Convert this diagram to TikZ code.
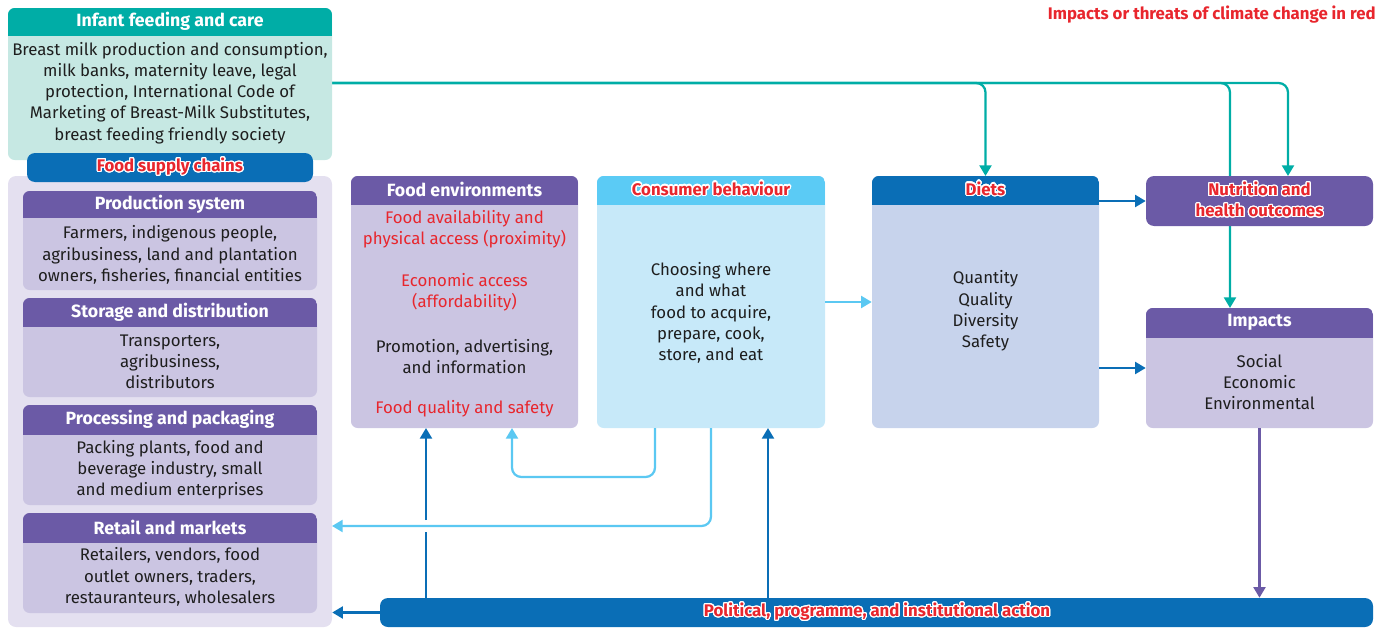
\documentclass[tikz,border=0pt]{standalone}
\usepackage{fontspec}
\setmainfont{Fira Sans}
\usepackage{contour}
\contourlength{0.9pt}
\contournumber{24}
\usetikzlibrary{arrows.meta,fit}
\definecolor{cteal}{HTML}{00ADA6}
\definecolor{cinfant}{HTML}{C6E8E3}
\definecolor{cdblue}{HTML}{0A6EB6}
\definecolor{cpurple}{HTML}{6B5AA6}
\definecolor{cpbody}{HTML}{CBC5E2}
\definecolor{clav}{HTML}{E4E0F0}
\definecolor{clbhead}{HTML}{5BCBF5}
\definecolor{clbbody}{HTML}{C7E9F9}
\definecolor{cdiet}{HTML}{C7D3EC}
\definecolor{cred}{HTML}{E8262D}
\definecolor{ctext}{HTML}{1E1E1E}
\definecolor{clbarrow}{HTML}{5BC8F2}
\newcommand\panel[8]{%
  \fill[#8, rounded corners=5pt] (#2,#3) rectangle (#4,#5);
  \begin{scope}
    \clip[rounded corners=5pt] (#2,#3) rectangle (#4,#5);
    \fill[#7] (#2,#3) rectangle (#4,#6);
  \end{scope}
  \node[fit={(#2,#3)(#4,#5)}, inner sep=0pt] (#1) {};}
\tikzset{
  bodytxt/.style={font=\fontsize{12.6}{15.9}\selectfont, align=center, text=ctext, inner sep=0pt},
  headtxt/.style={font=\bfseries\fontsize{13.3}{15}\selectfont, text=white, inner sep=0pt},
  redhead/.style={font=\bfseries\fontsize{12.6}{15.9}\selectfont, text=cred, inner sep=0pt, align=center},
  conn/.style={line width=1.7pt, -{Triangle[length=8pt,width=9pt]}},
  plainline/.style={line width=1.7pt},
}
\begin{document}
\begin{tikzpicture}[x=0.75pt,y=-0.75pt]
\useasboundingbox (0,0) rectangle (1386,628);
% teal connectors (behind boxes)
\coordinate (impin) at (1230,308);
\coordinate (nutin) at (1288,176);
\coordinate (dietin) at (985.5,176);
\coordinate (infout) at (332,83);
\draw[conn, cteal, rounded corners=7pt] (infout) -| (dietin);
\draw[conn, cteal, rounded corners=7pt] (infout) -| (impin);
\draw[conn, cteal, rounded corners=7pt] (infout) -| (nutin);

% supply chain background
\fill[clav, rounded corners=6pt] (8,176) rectangle (332,627);
\node[fit={(8,176)(332,627)}, inner sep=0pt] (scbg) {};

% infant feeding
\panel{infant}{8}{8}{332}{160}{36}{cteal}{cinfant}
\node[headtxt] (infh) at (170,21) {Infant feeding and care};
\node[bodytxt] (infb) at (170,93) {Breast milk production and consumption,\\milk banks, maternity leave, legal\\protection, International Code of\\Marketing of Breast-Milk Substitutes,\\breast feeding friendly society};

% food supply chains bar
\fill[cdblue, rounded corners=6pt] (27,153) rectangle (313,182);
\node[fit={(27,153)(313,182)}, inner sep=0pt] (fsc) {};
\node[redhead] (fsct) at (170,167) {\contour{white}{Food supply chains}};

% supply chain panels
\panel{prod}{23}{191}{317}{290}{218}{cpurple}{cpbody}
\node[headtxt] (prodh) at (170,204) {Production system};
\node[bodytxt] (prodb) at (170,255) {Farmers, indigenous people,\\agribusiness, land and plantation\\owners, fisheries, financial entities};

\panel{stor}{23}{298}{317}{397}{327}{cpurple}{cpbody}
\node[headtxt] (storh) at (170,312) {Storage and distribution};
\node[bodytxt] (storb) at (170,362) {Transporters,\\agribusiness,\\distributors};

\panel{proc}{23}{405}{317}{505}{435}{cpurple}{cpbody}
\node[headtxt] (proch) at (170,419) {Processing and packaging};
\node[bodytxt] (procb) at (170,470) {Packing plants, food and\\beverage industry, small\\and medium enterprises};

\panel{ret}{23}{513}{317}{613}{543}{cpurple}{cpbody}
\node[headtxt] (reth) at (170,527) {Retail and markets};
\node[bodytxt] (retb) at (170,577) {Retailers, vendors, food\\outlet owners, traders,\\restauranteurs, wholesalers};

% food environments
\panel{fenv}{351}{176}{578}{428}{205}{cpurple}{cpbody}
\node[headtxt] (fenvh) at (464.5,189) {Food environments};
\node[bodytxt, text=cred] (fe1t) at (464.5,229.5) {Food availability and\\physical access (proximity)};
\node[bodytxt, text=cred] (fe2t) at (464.5,292.5) {Economic access\\(affordability)};
\node[bodytxt] (fe3t) at (464.5,356.5) {Promotion, advertising,\\and information};
\node[bodytxt, text=cred] (fe4t) at (464.5,409) {Food quality and safety};

% consumer behaviour
\panel{cons}{597}{176}{825}{428}{205}{clbhead}{clbbody}
\node[redhead] (consh) at (711,189) {\contour{white}{Consumer behaviour}};
\node[bodytxt] (consb) at (711,313) {Choosing where\\and what\\food to acquire,\\prepare, cook,\\store, and eat};

% diets
\panel{diets}{872}{176}{1099}{428}{205}{cdblue}{cdiet}
\node[redhead] (dietsh) at (985.5,189) {\contour{white}{Diets}};
\node[bodytxt] (dietsb) at (985.5,311) {Quantity\\Quality\\Diversity\\Safety};

% nutrition
\fill[cpurple, rounded corners=6pt] (1146,176) rectangle (1373,226);
\node[fit={(1146,176)(1373,226)}, inner sep=0pt] (nutr) {};
\node[redhead] (nutrt) at (1259.5,200) {\contour{white}{Nutrition and}\\\contour{white}{health outcomes}};

% impacts
\panel{imp}{1146}{308}{1373}{428}{338}{cpurple}{cpbody}
\node[headtxt] (imph) at (1259.5,322) {Impacts};
\node[bodytxt] (impb) at (1259.5,382) {Social\\Economic\\Environmental};

% political bar
\fill[cdblue, rounded corners=6pt] (380,598) rectangle (1373,627);
\node[fit={(380,598)(1373,627)}, inner sep=0pt] (pol) {};
\node[redhead] (polt) at (877,612) {\contour{white}{Political, programme, and institutional action}};

% legend
\node[redhead, anchor=east] (legend) at (1376,15) {Impacts or threats of climate change in red};

% connectors
\draw[conn, cdblue] (nutr.west -| diets.east) -- (nutr.west);
\draw[conn, cdblue] (imp.west -| diets.east) -- (imp.west);
\draw[conn, clbarrow] (cons.east) -- (diets.west);

\coordinate (cb1) at (655,428);
\coordinate (fe1) at (512,428);
\coordinate (cbloop) at (655,477);
\draw[conn, clbarrow, rounded corners=7pt] (cb1) -- (cbloop) -| (fe1);

\coordinate (cb2) at (711,428);
\coordinate (sc2) at (332,526);
\draw[conn, clbarrow, rounded corners=7pt] (cb2) |- (sc2);

\coordinate (pa1) at (426,598);
\coordinate (pa1g1) at (426,532);
\coordinate (pa1g2) at (426,520);
\coordinate (fe2) at (426,428);
\draw[plainline, cdblue] (pa1) -- (pa1g1);
\draw[conn, cdblue] (pa1g2) -- (fe2);

\coordinate (pa2) at (768,598);
\coordinate (cb3) at (768,428);
\draw[conn, cdblue] (pa2) -- (cb3);

\draw[conn, cdblue] (pol.west) -- (pol.west -| scbg.east);
\draw[conn, cpurple] (imp.south) -- (imp.south |- pol.north);
\end{tikzpicture}
\end{document}
